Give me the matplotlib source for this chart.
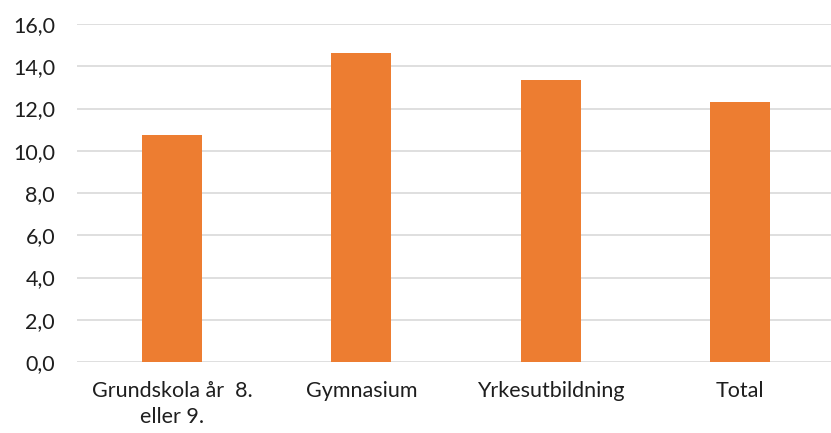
import matplotlib.pyplot as plt

categories = ["Grundskola år  8.\neller 9.", "Gymnasium", "Yrkesutbildning", "Total"]
values = [10.74, 14.61, 13.33, 12.32]
yticks = [0, 2, 4, 6, 8, 10, 12, 14, 16]

plt.rcParams['font.family'] = ['Lato', 'DejaVu Sans']

W, H = 831, 433
fig = plt.figure(figsize=(W / 100, H / 100), dpi=100)
ax = fig.add_axes([77.3 / W, 1 - 362 / H, 757.4 / W, 338 / H])

x = range(len(categories))
ax.bar(x, values, width=0.317, color='#ED7D31', zorder=3)

ax.set_xlim(-0.5, 3.5)
ax.set_ylim(0, 16)
ax.set_yticks(yticks)
ax.set_yticklabels([("%.1f" % v).replace('.', ',') for v in yticks])
ax.set_xticks(list(x))
ax.set_xticklabels(categories, linespacing=1.35)
ax.grid(axis='y', color='#d9d9d9', linewidth=1.2, zorder=0)
ax.tick_params(axis='both', length=0, labelsize=15.5, colors='#1e1e1e')
ax.tick_params(axis='y', pad=16)
ax.tick_params(axis='x', pad=14)
for s in ax.spines.values():
    s.set_visible(False)

fig.savefig('out.png', dpi=100)
